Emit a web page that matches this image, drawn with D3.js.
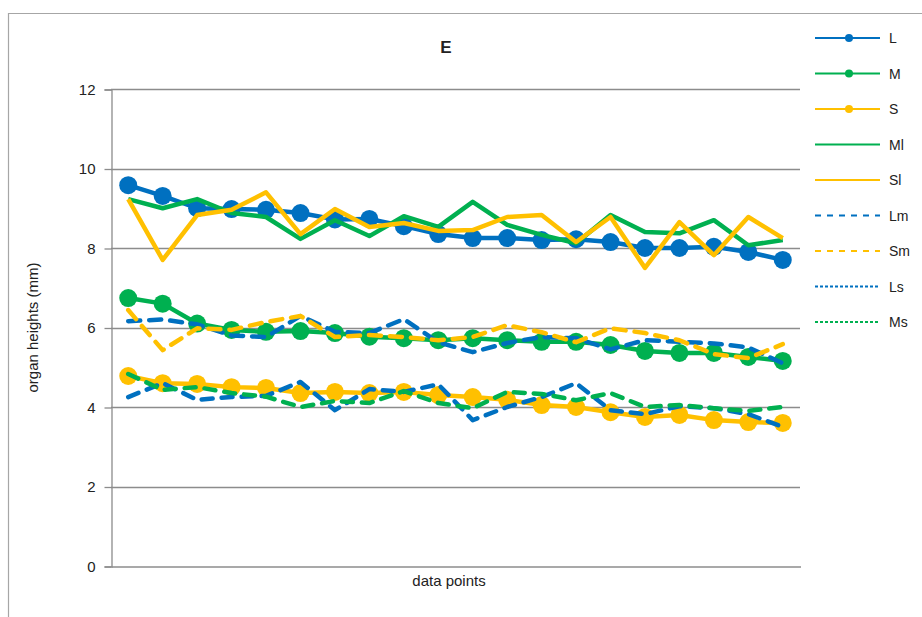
<!DOCTYPE html>
<html>
<head>
<meta charset="utf-8">
<script src="https://cdn.jsdelivr.net/npm/d3@7"></script>
<style>
  html, body { margin: 0; padding: 0; background: #fff; }
  svg { display: block; font-family: "Liberation Sans", Arial, sans-serif; }
</style>
</head>
<body>
<svg id="chart" width="922" height="617"></svg>
<script>
// ---- data ----
const categories = d3.range(1, 21).map(String);
const yTicks = [0, 2, 4, 6, 8, 10, 12];
const seriesNames = ["L", "M", "S", "Ml", "Sl", "Lm", "Sm", "Ls", "Ms"];

const L  = [9.58, 9.31, 9.0, 8.98, 8.96, 8.88, 8.72, 8.73, 8.55, 8.35, 8.25, 8.25, 8.2, 8.22, 8.15, 8.0, 8.0, 8.03, 7.9, 7.7];
const M  = [6.74, 6.6, 6.1, 5.94, 5.89, 5.91, 5.86, 5.77, 5.73, 5.68, 5.73, 5.68, 5.64, 5.64, 5.56, 5.41, 5.36, 5.36, 5.26, 5.16];
const S  = [4.78, 4.6, 4.58, 4.5, 4.48, 4.35, 4.38, 4.35, 4.38, 4.3, 4.25, 4.18, 4.05, 4.0, 3.87, 3.75, 3.8, 3.67, 3.62, 3.6];
const Ml = [9.23, 9.0, 9.23, 8.88, 8.78, 8.23, 8.7, 8.3, 8.8, 8.53, 9.16, 8.58, 8.33, 8.12, 8.83, 8.4, 8.37, 8.7, 8.07, 8.2];
const Sl = [9.23, 7.7, 8.83, 8.96, 9.4, 8.35, 8.98, 8.53, 8.63, 8.43, 8.45, 8.78, 8.83, 8.15, 8.78, 7.5, 8.65, 7.82, 8.78, 8.25];
const Lm = [6.16, 6.2, 6.08, 5.8, 5.76, 6.29, 5.89, 5.86, 6.21, 5.63, 5.38, 5.61, 5.76, 5.73, 5.45, 5.68, 5.64, 5.6, 5.5, 5.1];
const Sm = [6.44, 5.43, 5.98, 5.94, 6.14, 6.29, 5.76, 5.81, 5.76, 5.68, 5.76, 6.06, 5.88, 5.63, 5.98, 5.86, 5.68, 5.33, 5.23, 5.58];
const Ls = [4.25, 4.6, 4.18, 4.25, 4.28, 4.63, 3.92, 4.45, 4.38, 4.57, 3.67, 4.0, 4.25, 4.6, 3.92, 3.82, 4.02, 3.97, 3.82, 3.5];
const Ms = [4.83, 4.43, 4.5, 4.35, 4.26, 4.0, 4.15, 4.1, 4.4, 4.1, 3.97, 4.38, 4.33, 4.17, 4.35, 4.0, 4.05, 3.97, 3.9, 4.0];

const title = "E";
const xLabel = "data points";
const yLabel = "organ heights (mm)";

// ---- styles ----
const BLUE = "#0070C0", GREEN = "#00B050", YELLOW = "#FFC000";
const styles = {
  L:  { color: BLUE,   marker: true,  dash: null },
  M:  { color: GREEN,  marker: true,  dash: null },
  S:  { color: YELLOW, marker: true,  dash: null },
  Ml: { color: GREEN,  marker: false, dash: null },
  Sl: { color: YELLOW, marker: false, dash: null },
  Lm: { color: BLUE,   marker: false, dash: "12,9",  legendDash: "6,6" },
  Sm: { color: YELLOW, marker: false, dash: "12,9",  legendDash: "6,6" },
  Ls: { color: BLUE,   marker: false, dash: "11,9",  legendDash: "3,2" },
  Ms: { color: GREEN,  marker: false, dash: "11,9",  legendDash: "3,2" }
};
const seriesData = { L, M, S, Ml, Sl, Lm, Sm, Ls, Ms };

// ---- layout ----
const svg = d3.select("#chart");
const plot = { left: 111, right: 800, top: 89, bottom: 566 };

// outer chart border
svg.append("path")
  .attr("d", "M8.5,617 L8.5,13.5 L922,13.5")
  .attr("fill", "none").attr("stroke", "#a6a6a6").attr("stroke-width", 1.2);

const x = d3.scaleBand().domain(categories).range([plot.left, plot.right]);
const y = d3.scaleLinear().domain([0, 12]).range([plot.bottom, plot.top]);

// gridlines
svg.append("g").selectAll("line").data(yTicks.filter(d => d > 0)).join("line")
  .attr("x1", plot.left).attr("x2", plot.right)
  .attr("y1", d => Math.round(y(d)) + 0.5).attr("y2", d => Math.round(y(d)) + 0.5)
  .attr("stroke", "#8c8c8c").attr("stroke-width", 1.3);

// y axis
const yAxis = d3.axisLeft(y).tickValues(yTicks).tickSize(7).tickPadding(9).tickFormat(d3.format("d"));
const gy = svg.append("g").attr("transform", `translate(${plot.left + 0.5},0.5)`).call(yAxis);
gy.select(".domain").attr("stroke", "#8c8c8c").attr("stroke-width", 1.3);
gy.selectAll(".tick line").attr("stroke", "#8c8c8c").attr("stroke-width", 1.3);
gy.selectAll(".tick text").attr("font-size", 15).attr("fill", "#222")
  .attr("font-family", "Liberation Sans, Arial, sans-serif");

// x axis (no tick labels)
const xAxis = d3.axisBottom(x).tickSize(0).tickFormat("");
const gx = svg.append("g").attr("transform", `translate(0.5,${plot.bottom + 0.5})`).call(xAxis);
gx.select(".domain").attr("stroke", "#8c8c8c").attr("stroke-width", 1.3);

// lines, drawn in series order (later series on top)
const line = d3.line().x((d, i) => x(categories[i]) + x.bandwidth() / 2).y(d => y(d));
const gLines = svg.append("g");
seriesNames.forEach(name => {
  const st = styles[name];
  const vals = seriesData[name];
  gLines.append("path")
    .datum(vals)
    .attr("d", line)
    .attr("fill", "none")
    .attr("stroke", st.color)
    .attr("stroke-width", 4.5)
    .attr("stroke-linejoin", "round")
    .attr("stroke-linecap", st.dash ? "round" : "butt")
    .attr("stroke-dasharray", st.dash);
  if (st.marker) {
    gLines.append("g").selectAll("circle").data(vals).join("circle")
      .attr("cx", (d, i) => x(categories[i]) + x.bandwidth() / 2)
      .attr("cy", d => y(d))
      .attr("r", 9)
      .attr("fill", st.color);
  }
});

// title
svg.append("text").attr("x", 446).attr("y", 53).attr("text-anchor", "middle")
  .attr("font-size", 17).attr("font-weight", "bold").attr("fill", "#222").text(title);

// axis labels
svg.append("text").attr("x", 449).attr("y", 586).attr("text-anchor", "middle")
  .attr("font-size", 15).attr("fill", "#222").text(xLabel);
svg.append("text").attr("transform", `translate(38,${(plot.top + plot.bottom) / 2}) rotate(-90)`)
  .attr("text-anchor", "middle").attr("font-size", 15).attr("fill", "#222").text(yLabel);

// legend
const legendY = d3.scalePoint().domain(seriesNames).range([38, 322]);
const lg = svg.append("g");
seriesNames.forEach(name => {
  const st = styles[name];
  const yy = legendY(name);
  lg.append("line").attr("x1", 815).attr("x2", 880).attr("y1", yy).attr("y2", yy)
    .attr("stroke", st.color).attr("stroke-width", 2)
    .attr("stroke-dasharray", st.legendDash || null);
  if (st.marker) {
    lg.append("circle").attr("cx", 849).attr("cy", yy).attr("r", 4).attr("fill", st.color);
  }
  lg.append("text").attr("x", 889).attr("y", yy + 5).attr("font-size", 14)
    .attr("fill", "#222").text(name);
});
</script>
</body>
</html>
